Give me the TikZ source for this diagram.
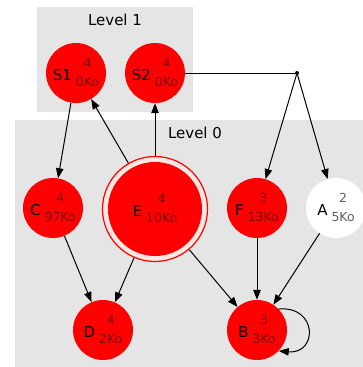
\documentclass[tikz,border=0pt]{standalone}
\usepackage{fontspec}
\setmainfont{DejaVu Sans}
\usetikzlibrary{arrows.meta,positioning}
\definecolor{clgray}{RGB}{229,229,229}
\definecolor{nred}{RGB}{255,0,0}
\definecolor{numred}{RGB}{125,0,0}
\definecolor{numgray}{RGB}{95,95,95}
\definecolor{ringgap}{RGB}{252,232,226}

% name on the left, count and size stacked on the right
\newcommand\ninfo[4][numred]{%
  {\fontsize{15}{15}\selectfont #2}\hspace{4pt}%
  \raisebox{4pt}{\color{#1}\fontsize{12.5}{19}\selectfont
    \begin{tabular}{@{}c@{}}#3\\#4\end{tabular}}}

\begin{document}
\begin{tikzpicture}[
  x=1pt, y=-1pt,
  >=Triangle,
  Lvl/.style = {fill=clgray, draw=none},
  LvlT/.style = {font=\fontsize{15}{15}\selectfont, inner sep=0pt},
  P/.style = {circle, fill=nred, draw=none, minimum size=60pt,
              inner sep=0pt, align=center},
  W/.style = {P, fill=white},
  PP/.style = {circle, fill=ringgap, draw=nred, line width=1.2pt,
               minimum size=105pt, inner sep=0pt,
               path picture={\fill[nred] (path picture bounding box.center) circle (47pt);}},
  jn/.style = {circle, fill=black, inner sep=0pt, minimum size=4pt},
  arr/.style = {-{Triangle[length=10pt,width=7.5pt]}, line width=1pt, color=black}
]
\useasboundingbox (0,0) rectangle (363,367);

% clusters
\fill[Lvl] (37,7) rectangle (193,112);
\fill[Lvl] (15,120) rectangle (363,367);
\node[LvlT] (L1) at (115,20) {Level 1};
\node[LvlT] (L0) at (195,133) {Level 0};

% Level 1
\node[P] (S1) at ( 76, 73) {\ninfo{S1}{4}{0Ko}};
\node[P] (S2) at (155, 73) {\ninfo{S2}{4}{0Ko}};
\node[jn] (J) at (297, 73) {};

% Level 0
\node[P]  (C) at ( 53,208) {\ninfo{C}{4}{97Ko}};
\node[PP] (E) at (155,209) {\ninfo{E}{4}{10Ko}};
\node[P]  (F) at (257,208) {\ninfo{F}{3}{13Ko}};
\node[W]  (A) at (336,208) {\ninfo[numgray]{A}{2}{5Ko}};
\node[P]  (D) at (103,330) {\ninfo{D}{4}{2Ko}};
\node[P]  (B) at (257,330) {\ninfo{B}{3}{3Ko}};

% edges
\draw[arr] (S1) -- (C);
\draw[arr] (E) -- (S1);
\draw[arr] (E) -- (S2);
\draw[line width=1pt] (S2) -- (J);
\draw[arr] (J) -- (F);
\draw[arr] (J) -- (A);
\draw[arr] (C) -- (D);
\draw[arr] (E) -- (D);
\draw[arr] (E) -- (B);
\draw[arr] (F) -- (B);
\draw[arr] (A) -- (B);
\draw[arr] (B.44) to[out=5,in=-5,looseness=2.4] (B.-44);

\end{tikzpicture}
\end{document}
